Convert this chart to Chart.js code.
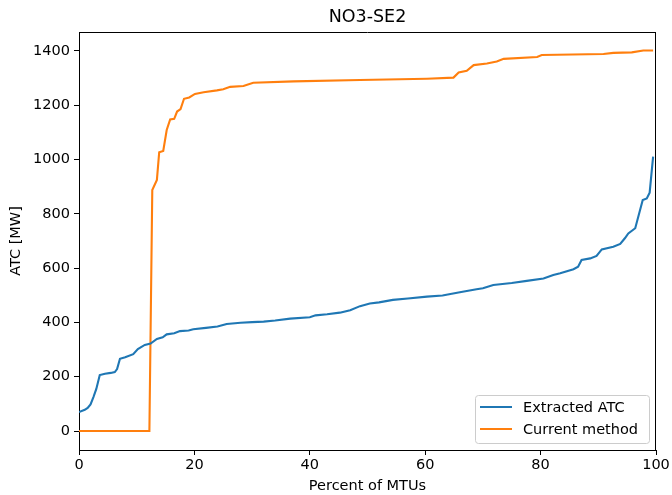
<!DOCTYPE html>
<html>
<head>
<meta charset="utf-8">
<script src="https://cdn.jsdelivr.net/npm/chart.js@4"></script>
<style>
html,body{margin:0;padding:0;background:#fff;}
#wrap{width:672px;height:495px;position:relative;}
</style>
</head>
<body>
<div id="wrap"><canvas id="c" width="672" height="495"></canvas></div>
<script>
const chartTitle = 'NO3-SE2';
const xLabel = 'Percent of MTUs';
const yLabel = 'ATC [MW]';
const seriesNames = ['Extracted ATC', 'Current method'];
const xTicks = [0, 20, 40, 60, 80, 100];
const yTicks = [0, 200, 400, 600, 800, 1000, 1200, 1400];

const extractedX = [0,1,1.5,2,2.5,3,3.6,4.5,5.5,6.2,6.6,7.1,8,9.4,10.2,11.4,12.4,13.5,14.5,15.2,16.5,17.5,19,19.8,22,24,25.6,28,30,32,34,36.6,40,41,43,45.2,47,48.7,50.4,52,54.4,57,60.3,63,66,68.9,70,71.8,75,77.6,80.5,82.2,83.4,85.7,86.5,87.1,88.6,89.7,90.6,92.6,93.8,94.6,95.2,96.4,97.7,98.4,98.9,99.5];
const extractedY = [70,78,85,98,125,155,206,211,214,217,228,266,272,283,302,317,322,339,345,356,360,368,370,375,380,385,394,399,401,403,407,414,419,426,430,436,445,460,470,474,483,488,495,499,511,522,526,538,545,553,562,575,581,596,605,630,636,645,669,679,689,710,728,747,851,857,878,1011];

const currentX = [0,12.2,12.7,13.5,13.9,14.6,15.2,15.8,16.5,17.0,17.6,18.2,19.1,20.1,21.6,23.9,25,26.2,28.5,30.2,37.2,48.7,60.3,64.9,65.8,67.2,68.4,70.7,72.4,73.6,79.4,80.2,90.9,92.6,95.8,97.8,99.5];
const currentY = [0,0,888,925,1027,1032,1109,1148,1150,1177,1186,1224,1229,1242,1248,1255,1259,1268,1271,1283,1288,1293,1298,1302,1321,1327,1348,1354,1361,1371,1378,1385,1389,1393,1395,1402,1402];

const colors = ['#1f77b4', '#ff7f0e'];
const FONT = 'DejaVu Sans';
const FS = 14.5;

function pts(xs, ys){ return xs.map((x,i)=>({x:x, y:ys[i]})); }

const framePlugin = {
  id:'frame',
  afterDatasetsDraw(chart){
    const a = chart.chartArea, ctx = chart.ctx;
    ctx.save();
    ctx.strokeStyle = '#000';
    ctx.lineWidth = 1;
    ctx.beginPath();
    ctx.moveTo(Math.round(a.left), Math.round(a.top)+0.5);
    ctx.lineTo(Math.round(a.right), Math.round(a.top)+0.5);
    ctx.moveTo(Math.round(a.right)-0.5, Math.round(a.top));
    ctx.lineTo(Math.round(a.right)-0.5, Math.round(a.bottom));
    ctx.stroke();
    ctx.restore();
  },
  afterDraw(chart){
    const a = chart.chartArea, ctx = chart.ctx;
    const w = 174, h = 48;
    const x0 = Math.round(a.right) - 7 - w, y0 = Math.round(a.bottom) - 7 - h;
    ctx.save();
    ctx.fillStyle = 'rgba(255,255,255,0.8)';
    ctx.strokeStyle = '#cccccc';
    ctx.lineWidth = 1;
    const r = 3;
    ctx.beginPath();
    ctx.moveTo(x0+r+0.5, y0+0.5);
    ctx.arcTo(x0+w+0.5, y0+0.5, x0+w+0.5, y0+h+0.5, r);
    ctx.arcTo(x0+w+0.5, y0+h+0.5, x0+0.5, y0+h+0.5, r);
    ctx.arcTo(x0+0.5, y0+h+0.5, x0+0.5, y0+0.5, r);
    ctx.arcTo(x0+0.5, y0+0.5, x0+w+0.5, y0+0.5, r);
    ctx.closePath();
    ctx.fill(); ctx.stroke();
    ctx.font = FS + 'px "' + FONT + '"';
    ctx.textBaseline = 'middle';
    ctx.fillStyle = '#000';
    chart.data.datasets.forEach((ds, i) => {
      const cy = y0 + 12 + i*22;
      ctx.strokeStyle = ds.borderColor;
      ctx.lineWidth = 2;
      ctx.beginPath();
      ctx.moveTo(x0+5, cy); ctx.lineTo(x0+37, cy);
      ctx.stroke();
      ctx.fillText(ds.label, x0+48, cy+1);
    });
    ctx.restore();
  }
};

new Chart(document.getElementById('c'), {
  type:'line',
  data:{
    datasets:[
      {label:seriesNames[0], data:pts(extractedX, extractedY), borderColor:colors[0], backgroundColor:colors[0], borderWidth:2.1, pointRadius:0, tension:0, fill:false},
      {label:seriesNames[1], data:pts(currentX, currentY), borderColor:colors[1], backgroundColor:colors[1], borderWidth:2.1, pointRadius:0, tension:0, fill:false}
    ]
  },
  options:{
    responsive:false,
    animation:false,
    events:[],
    layout:{padding:{left:0, right:16, top:0, bottom:0}},
    plugins:{
      legend:{display:false},
      tooltip:{enabled:false},
      title:{display:true, text:chartTitle, fullSize:false, color:'#000', font:{family:FONT, size:17.5, weight:'normal'}, padding:{top:7, bottom:4}}
    },
    scales:{
      x:{
        type:'linear', min:0, max:100,
        afterBuildTicks(s){ s.ticks = xTicks.map(v=>({value:v})); },
        afterFit(s){ s.height = 45; },
        grid:{drawOnChartArea:false, drawTicks:true, tickLength:5, tickColor:'#000', tickWidth:1},
        border:{display:true, color:'#000', width:1},
        ticks:{color:'#000', font:{family:FONT, size:FS}, padding:2, maxRotation:0, callback:(v)=>String(v)},
        title:{display:true, text:xLabel, color:'#000', font:{family:FONT, size:FS}, padding:{top:0, bottom:0}}
      },
      y:{
        type:'linear', min:-70, max:1470,
        afterBuildTicks(s){ s.ticks = yTicks.map(v=>({value:v})); },
        afterFit(s){ s.width = 79; },
        grid:{drawOnChartArea:false, drawTicks:true, tickLength:5, tickColor:'#000', tickWidth:1},
        border:{display:true, color:'#000', width:1},
        ticks:{color:'#000', font:{family:FONT, size:FS}, padding:4, callback:(v)=>String(v)},
        title:{display:true, text:yLabel, color:'#000', font:{family:FONT, size:FS}, padding:{top:8, bottom:4}}
      }
    }
  },
  plugins:[framePlugin]
});
</script>
</body>
</html>
